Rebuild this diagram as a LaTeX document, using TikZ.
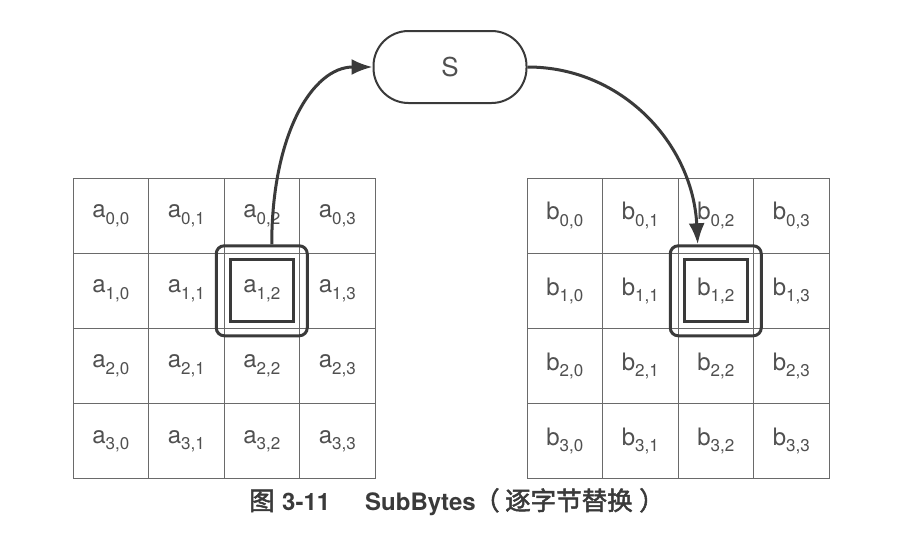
\documentclass[tikz,border=0pt]{standalone}
\usepackage{fontspec}
\setmainfont{TeX Gyre Heros}
\newfontfamily\cjk{Noto Sans CJK SC}[AutoFakeBold=2.0]
\usetikzlibrary{arrows.meta}
\definecolor{txt}{HTML}{505050}
\definecolor{grid}{HTML}{6A6A6A}
\definecolor{dark}{HTML}{3A3A3A}
\newcommand{\cellsub}[2]{#1{\fontsize{17}{17}\selectfont\raisebox{-6.5pt}{#2}}}
\tikzset{
  cellbox/.style={draw=grid, line width=0.9pt, minimum width=75.5pt, minimum height=75.2pt, inner sep=0pt, text=txt, font=\fontsize{24}{24}\selectfont},
  outerbox/.style={draw=dark, line width=3pt, rounded corners=8pt, minimum width=91pt, minimum height=90pt, inner sep=0pt},
  innerbox/.style={draw=dark, line width=3pt, minimum width=63pt, minimum height=62pt, inner sep=0pt},
  sbox/.style={draw=dark, line width=2pt, rounded corners=35pt, minimum width=153pt, minimum height=72pt, inner sep=0pt, text=txt, font=\fontsize{26}{26}\selectfont},
  flow/.style={draw=dark, line width=3pt, -{Latex[length=21pt,width=16pt]}},
  captxt/.style={anchor=base west, inner sep=0pt, text=dark},
  caplat/.style={captxt, font=\bfseries\fontsize{24}{24}\selectfont},
  capcjk/.style={captxt, font=\cjk\bfseries\fontsize{25.5}{26}\selectfont},
}
\begin{document}
\begin{tikzpicture}[x=1pt,y=-1pt]
\useasboundingbox[fill=white] (0,0) rectangle (920,554);
\foreach \r in {0,...,3}{
  \foreach \c in {0,...,3}{
    \node[cellbox] (a-\r-\c) at ({73+75.5*\c+37.75},{178+75.2*\r+37.6}) {\cellsub{a}{\r,\c}};
    \node[cellbox] (b-\r-\c) at ({527+75.5*\c+37.75},{178+75.2*\r+37.6}) {\cellsub{b}{\r,\c}};
  }
}
\node[outerbox] (ha) at (a-1-2) {};
\node[innerbox] (ia) at (a-1-2) {};
\node[outerbox] (hb) at (b-1-2) {};
\node[innerbox] (ib) at (b-1-2) {};
\node[sbox] (S) at (450,67) {S};
\draw[flow] ([xshift=10pt]ha.north) .. controls +(0,-110) and +(-60,0) .. (S.west);
\draw[flow] (S.east) .. controls +(95,0) and +(-5,-100) .. ([xshift=-18pt]hb.north);
\node[capcjk] (c1) at (249,510) {图};
\node[caplat] (c2) at (282,510) {3-11};
\node[caplat] (c3) at (365,510) {SubBytes};
\node[capcjk] (c4) at (474,510) {（};
\node[capcjk] (c5) at (505,510) {逐字节替换};
\node[capcjk] (c6) at (639,510) {）};
\end{tikzpicture}
\end{document}
